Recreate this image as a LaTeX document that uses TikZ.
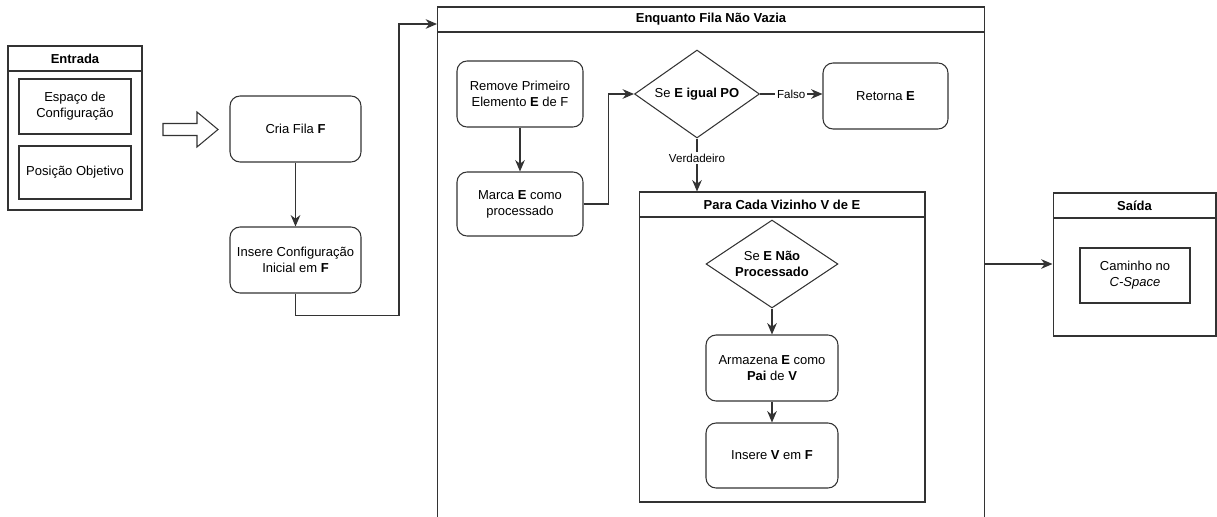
\documentclass[tikz,border=0pt]{standalone}
\usepackage{fontspec}
\setmainfont{Liberation Sans}
\usetikzlibrary{arrows.meta,shapes.geometric}

\begin{document}
\begin{tikzpicture}[x=0.02cm,y=-0.02cm,line width=0.6pt,
  font=\fontsize{7.4}{9}\selectfont,
  caixa/.style={draw=black!80,rounded corners=0.2cm,align=center,minimum width=2.52cm,minimum height=1.32cm,inner sep=2pt},
  quadro/.style={draw=black!80,align=center,inner sep=2pt},
  titulo/.style={draw=black!80,font=\fontsize{7.4}{9}\selectfont\bfseries,minimum height=0.5cm,inner sep=0pt},
  corpo/.style={draw=black!80,inner sep=0pt},
  decisao/.style={draw=black!80,diamond,align=center,inner sep=0pt,aspect=1.42},
  seta/.style={draw=black!80,-{Stealth[length=6.5pt,width=5.5pt]}},
  rotulo/.style={fill=white,font=\fontsize{6.6}{8}\selectfont,inner sep=1pt}]
\useasboundingbox (0,0) rectangle (1217,517);
\clip (0,0) rectangle (1217,517);

\node[titulo,minimum width=2.68cm] (entT) at (75,58.5) {Entrada};
\node[corpo,minimum width=2.68cm,minimum height=2.78cm] (entB) at (75,140.5) {};
\node[quadro,minimum width=2.24cm,minimum height=1.1cm] (espaco) at (75,106.5) {Espaço de\\Configuração};
\node[quadro,minimum width=2.24cm,minimum height=1.06cm] (posicao) at (75,172.5) {Posição Objetivo};
\draw[black!80] (163,123.5) -- (197,123.5) -- (197,112) -- (218,129.5) -- (197,147) -- (197,135.5) -- (163,135.5) -- cycle;

\node[caixa,minimum width=2.62cm] (cria) at (295.5,129) {Cria Fila \textbf{F}};
\node[caixa,minimum width=2.62cm] (insere) at (295.5,260) {Insere Configuração\\Inicial em \textbf{F}};
\draw[seta] (cria) -- (insere);

\node[titulo,minimum width=10.96cm] (encT) at (711,19.5) {Enquanto Fila Não Vazia};
\node[corpo,minimum width=10.96cm,minimum height=10.4cm] (encB) at (711,292) {};
\coordinate (entraEnc) at (437,24);
\draw[seta] (insere.south) -- ++(0,22) -| (399,24) -- (entraEnc);

\node[caixa] (remove) at (520,94) {Remove Primeiro\\Elemento \textbf{E} de F};
\node[caixa,minimum height=1.28cm] (marca) at (520,204) {Marca \textbf{E} como\\processado};
\node[decisao,minimum width=2.5cm,minimum height=1.76cm] (se1) at (697,94) {Se \textbf{E igual PO}};
\node[caixa,minimum width=2.5cm] (retorna) at (885.5,96) {Retorna \textbf{E}};
\draw[seta] (remove) -- (marca);
\draw[seta] (marca.east) -- ++(25,0) |- (se1.west);
\draw[seta] (se1.east) -- node[rotulo]{Falso} (se1.east -| retorna.west);

\node[titulo,minimum width=5.72cm] (paraT) at (782,204.5) {Para Cada Vizinho V de E};
\node[corpo,minimum width=5.72cm,minimum height=5.7cm] (paraB) at (782,359.5) {};
\draw[seta] (se1.south) -- node[rotulo,pos=0.37]{Verdadeiro} (se1.south |- paraT.north);

\node[decisao,minimum width=2.64cm,minimum height=1.76cm] (se2) at (772,264) {Se \textbf{E Não}\\\textbf{Processado}};
\node[caixa,minimum width=2.64cm] (armazena) at (772,368) {Armazena \textbf{E} como\\\textbf{Pai} de \textbf{V}};
\node[caixa,minimum width=2.64cm,minimum height=1.3cm] (insV) at (772,455.5) {Insere \textbf{V} em \textbf{F}};
\draw[seta] (se2.south) -- (armazena.north);
\draw[seta] (armazena) -- (insV);

\node[titulo,minimum width=3.26cm] (saidaT) at (1134.5,205.5) {Saída};
\node[corpo,minimum width=3.26cm,minimum height=2.36cm] (saidaB) at (1134.5,277) {};
\node[quadro,minimum width=2.2cm,minimum height=1.1cm] (caminho) at (1135,275.5) {Caminho no\\\textit{C-Space}};
\draw[seta] (se2 -| encB.east) -- (se2 -| saidaB.west);
\end{tikzpicture}
\end{document}
